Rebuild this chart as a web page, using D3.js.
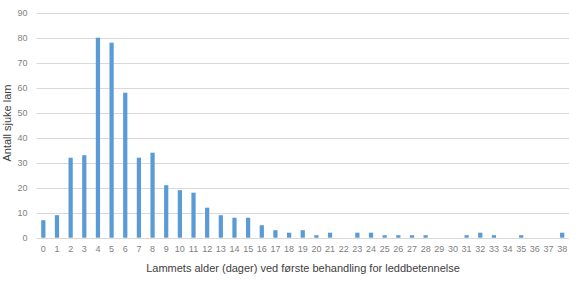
<!DOCTYPE html>
<html>
<head>
<meta charset="utf-8">
<script src="https://cdn.jsdelivr.net/npm/d3@7"></script>
<style>
  body { margin: 0; background: #fff; }
  svg text { font-family: "Liberation Sans", Arial, sans-serif; }
</style>
</head>
<body>
<div id="chart"></div>
<script>
// Age in days at first treatment, and number of sick lambs
const days = d3.range(0, 39).map(String);
const counts = [7, 9, 32, 33, 80, 78, 58, 32, 34, 21, 19, 18, 12, 9, 8, 8, 5, 3, 2, 3,
  1, 2, 0, 2, 2, 1, 1, 1, 1, 0, 0, 1, 2, 1, 0, 1, 0, 0, 2];
const yTicks = [0, 10, 20, 30, 40, 50, 60, 70, 80, 90];
const xTitle = "Lammets alder (dager) ved første behandling for leddbetennelse";
const yTitle = "Antall sjuke lam";

const width = 586, height = 284;
const margin = { top: 12.7, right: 17, bottom: 46.3, left: 36.5 };

const svg = d3.select("#chart").append("svg")
  .attr("width", width)
  .attr("height", height);

const data = days.map((d, i) => ({ day: d, value: counts[i] }));

const x = d3.scaleBand()
  .domain(days)
  .range([margin.left, width - margin.right])
  .paddingInner(0.69)
  .paddingOuter(0.345);

const y = d3.scaleLinear()
  .domain([0, 90])
  .range([height - margin.bottom, margin.top]);

// gridlines
svg.append("g")
  .selectAll("line")
  .data(yTicks)
  .join("line")
  .attr("x1", margin.left)
  .attr("x2", width - margin.right)
  .attr("y1", d => Math.round(y(d)) + 0.5)
  .attr("y2", d => Math.round(y(d)) + 0.5)
  .attr("stroke", "#d9d9d9")
  .attr("stroke-width", 1);

// bars
svg.append("g")
  .selectAll("rect")
  .data(data)
  .join("rect")
  .attr("x", d => x(d.day))
  .attr("width", x.bandwidth())
  .attr("y", d => y(d.value))
  .attr("height", d => y(0) - y(d.value))
  .attr("fill", "#5b9bd5");

// y axis
const yAxis = svg.append("g")
  .attr("transform", `translate(${margin.left},0)`)
  .call(d3.axisLeft(y).tickValues(yTicks).tickSize(0).tickPadding(9));
yAxis.select(".domain").remove();
yAxis.selectAll("text")
  .style("font-size", "9px")
  .attr("fill", "#7f7f7f");

// x axis
const xAxis = svg.append("g")
  .attr("transform", `translate(0,${y(0)})`)
  .call(d3.axisBottom(x).tickSize(0).tickPadding(8));
xAxis.select(".domain").remove();
xAxis.selectAll("text")
  .style("font-size", "9px")
  .attr("fill", "#7f7f7f");

// axis titles
svg.append("text")
  .attr("x", 303)
  .attr("y", 272)
  .attr("text-anchor", "middle")
  .style("font-size", "11px")
  .attr("fill", "#404040")
  .text(xTitle);

svg.append("text")
  .attr("transform", "translate(11,123) rotate(-90)")
  .attr("text-anchor", "middle")
  .style("font-size", "11px")
  .attr("fill", "#404040")
  .text(yTitle);
</script>
</body>
</html>
